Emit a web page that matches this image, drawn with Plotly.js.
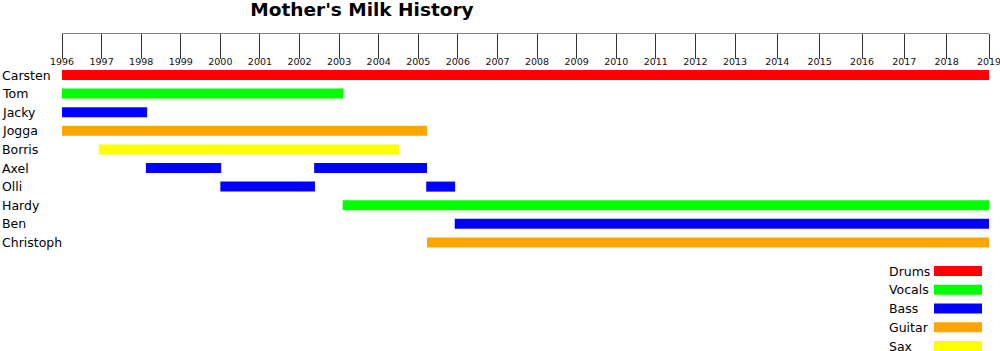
<!DOCTYPE html>
<html>
<head>
<meta charset="utf-8">
<script src="https://cdn.plot.ly/plotly-3.0.1.min.js"></script>
<style>html,body{margin:0;padding:0;background:#fff}#chart{width:1000px;height:351px}</style>
</head>
<body>
<div id="chart"></div>
<script>
// ---- data ----
const members = ['Carsten','Tom','Jacky','Jogga','Borris','Axel','Olli','Hardy','Ben','Christoph'];
const roles = ['Drums','Vocals','Bass','Guitar','Sax'];
const roleColors = ['#ff0000','#00ff00','#0000ff','#ffa500','#ffff00'];
const periodMember = ['Carsten','Tom','Jacky','Jogga','Borris','Axel','Axel','Olli','Olli','Hardy','Ben','Christoph'];
const periodRole   = ['Drums','Vocals','Bass','Guitar','Sax','Bass','Bass','Bass','Bass','Vocals','Bass','Guitar'];
const periodStart  = [1996, 1996, 1996, 1996, 1996.93, 1998.12, 2002.37, 2000.0, 2005.2, 2003.09, 2005.92, 2005.22];
const periodEnd    = [2019, 2003.1, 1998.15, 2005.22, 2004.51, 2000.02, 2005.22, 2002.39, 2005.93, 2019, 2019, 2019];
const years1 = [1996,1997,1998,1999,2000,2001,2002,2003,2004,2005,2006,2007,2008,2009,2010,2011,2012,2013];
const years2 = [2014,2015,2016,2017,2018,2019];
const seg1 = [1996, 2013];
const seg2 = [2013, 2019];

// ---- build ----
const FONT = 'DejaVu Sans, sans-serif';
function segTrace(seg, xa) {
  const y = [], base = [], len = [], col = [];
  for (let i = 0; i < periodMember.length; i++) {
    const s = Math.max(periodStart[i], seg[0]);
    const e = Math.min(periodEnd[i], seg[1]);
    if (e > s) {
      y.push(members.indexOf(periodMember[i]));
      base.push(s);
      len.push(e - s);
      col.push(roleColors[roles.indexOf(periodRole[i])]);
    }
  }
  return {type:'bar', orientation:'h', xaxis:xa, yaxis:'y', y:y, base:base, x:len,
    width:0.54, marker:{color:col, line:{width:0}}, hoverinfo:'skip', showlegend:false};
}
const legendTrace = {type:'bar', orientation:'h', xaxis:'x3', yaxis:'y2',
  y: roles.map((r,i)=>i), base: roles.map(()=>0), x: roles.map(()=>1),
  width:0.53, marker:{color:roleColors, line:{width:0}}, hoverinfo:'skip', showlegend:false};

const L = 62, R = 11, T = 33, B = 0, W = 1000, H = 351;
const pw = W - L - R;
const split = (735 - L) / pw;
const rowPx = 18.6, row0 = 75;
const yTop = -(row0 - T) / rowPx, yBot = yTop + (H - T - B) / rowPx;
const legPx = 18.75, leg0 = 271;
const y2Top = -(leg0 - T) / legPx, y2Bot = y2Top + (H - T - B) / legPx;

const axisCommon = {side:'bottom', anchor:'free', position:1, showline:true, linecolor:'#808080', linewidth:1,
  ticks:'outside', ticklen:25, tickcolor:'#333', tickwidth:1, showgrid:false, zeroline:false,
  ticklabelstandoff:-5, ticklabeloverflow:'allow',
  tickfont:{family:FONT, size:9.5, color:'#111'}, fixedrange:true};

const annotations = [];
members.forEach((m,i)=>annotations.push({xref:'paper', yref:'y', x:(0 - L)/pw, y:i, xanchor:'left', yanchor:'middle',
  text:m, showarrow:false, font:{family:FONT, size:12.5, color:'#000'}}));
roles.forEach((r,i)=>annotations.push({xref:'paper', yref:'y2', x:(887 - L)/pw, y:i, xanchor:'left', yanchor:'middle',
  text:r, showarrow:false, font:{family:FONT, size:12.5, color:'#000'}}));

const layout = {
  width:W, height:H, margin:{l:L, r:R, t:T, b:B, pad:0},
  paper_bgcolor:'#fff', plot_bgcolor:'rgba(0,0,0,0)', barmode:'overlay', showlegend:false,
  font:{family:FONT},
  title:{text:"Mother's Milk History", font:{family:FONT, size:18.5, color:'#000', weight:'bold'},
    xref:'container', yref:'container', x:0.362, xanchor:'center', y:1 - 10/H, yanchor:'middle'},
  xaxis:Object.assign({}, axisCommon, {domain:[0, split], range:seg1, tickvals:years1, ticktext:years1.map(String)}),
  xaxis2:Object.assign({}, axisCommon, {domain:[split, 1], range:seg2, tickvals:years2, ticktext:years2.map(String)}),
  xaxis3:{domain:[(934 - L)/pw, (982 - L)/pw], range:[0,1], visible:false, anchor:'y2', fixedrange:true},
  yaxis:{domain:[0,1], range:[yBot, yTop], visible:false, anchor:'x', fixedrange:true},
  yaxis2:{domain:[0,1], range:[y2Bot, y2Top], visible:false, anchor:'x3', fixedrange:true},
  annotations:annotations
};
Plotly.newPlot('chart', [segTrace(seg1,'x'), segTrace(seg2,'x2'), legendTrace], layout, {staticPlot:true, displayModeBar:false});
</script>
</body>
</html>
